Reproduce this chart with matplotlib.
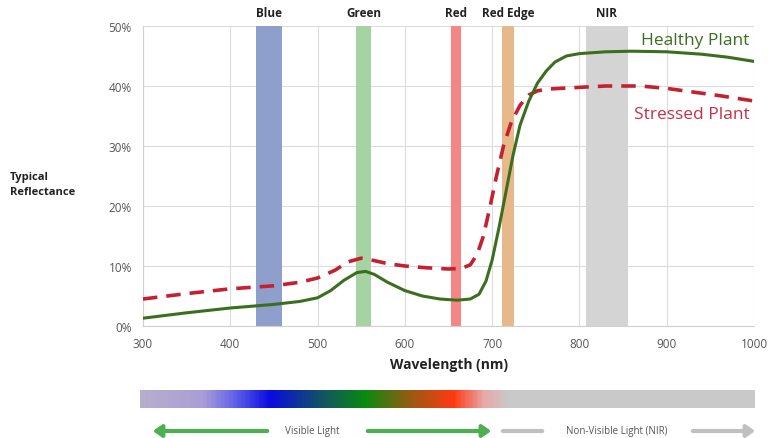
import numpy as np
import matplotlib
matplotlib.use('Agg')
import matplotlib.pyplot as plt
from matplotlib.colors import LinearSegmentedColormap

plt.rcParams['font.family'] = ['Open Sans', 'DejaVu Sans']

# reflectance curves (nm, %)
healthy_nm = [300, 350, 400, 450, 480, 500, 515, 530, 545, 555, 565, 580, 600, 620, 640, 660, 675, 685, 693,
              700, 708, 716, 724, 732, 742, 752, 762, 772, 785, 800, 830, 860, 900, 940, 970, 1000]
healthy_pct = [1.3, 2.2, 3.0, 3.6, 4.1, 4.7, 5.9, 7.6, 8.9, 9.1, 8.6, 7.3, 5.9, 5.0, 4.5, 4.3, 4.5, 5.3, 7.5,
               11.0, 16.5, 22.5, 28.5, 33.5, 37.5, 40.5, 42.5, 44.0, 45.0, 45.4, 45.7, 45.8, 45.7, 45.3, 44.8, 44.1]

stressed_nm = [300, 350, 400, 450, 480, 500, 520, 535, 550, 565, 580, 600, 625, 650, 665, 675, 683, 690,
               697, 705, 713, 722, 732, 742, 752, 765, 790, 830, 870, 900, 930, 960, 1000]
stressed_pct = [4.5, 5.4, 6.2, 6.7, 7.3, 8.0, 9.3, 10.7, 11.3, 10.9, 10.4, 10.0, 9.7, 9.5, 9.6, 10.2, 12.0, 15.0,
                19.5, 25.0, 30.0, 34.0, 36.8, 38.5, 39.2, 39.5, 39.7, 40.0, 40.0, 39.6, 39.0, 38.4, 37.5]

# spectral bands (nm)
band_names = ['Blue', 'Green', 'Red', 'Red Edge', 'NIR']
band_lo = [429, 544, 653, 711, 807]
band_hi = [459, 561, 664, 725, 856]
band_colors = ['#8f9fcb', '#a6d3a2', '#f48686', '#e7b98a', '#d4d4d4']

x_ticks = [300, 400, 500, 600, 700, 800, 900, 1000]
y_ticks = [0, 10, 20, 30, 40, 50]

W, H = 768, 439
fig = plt.figure(figsize=(W / 100, H / 100), dpi=100)

def box(l, t, r, b):
    return [l / W, 1 - b / H, (r - l) / W, (b - t) / H]

ax = fig.add_axes(box(143, 27, 754, 327))
for lo, hi, c in zip(band_lo, band_hi, band_colors):
    ax.axvspan(lo, hi, color=c, lw=0, zorder=1)
for name, lo, hi in zip(band_names, band_lo, band_hi):
    ax.text((lo + hi) / 2, 51.2, name, ha='center', va='bottom', fontsize=8.5,
            fontweight='bold', color='#222222')

ax.plot(stressed_nm, stressed_pct, color='#c4202f', lw=2.6, ls=(0, (4, 2.5)), zorder=3)
ax.plot(healthy_nm, healthy_pct, color='#3b6e1f', lw=2.2, zorder=4)

ax.text(995, 47.6, 'Healthy Plant', ha='right', va='center', fontsize=12.5, color='#3b6e1f')
ax.text(995, 35.3, 'Stressed Plant', ha='right', va='center', fontsize=12.5, color='#c4304a')

ax.set_xlim(300, 1000)
ax.set_ylim(0, 50)
ax.set_xticks(x_ticks)
ax.set_yticks(y_ticks)
ax.set_yticklabels([f'{v}%' for v in y_ticks])
ax.tick_params(length=0, labelsize=8.5, colors='#555555', pad=8)
ax.grid(True, color='#dcdcdc', lw=0.8, zorder=0)
ax.set_axisbelow(True)
for s in ['top', 'right']:
    ax.spines[s].set_visible(False)
for s in ['left', 'bottom']:
    ax.spines[s].set_color('#d0d0d0')
ax.set_xlabel('Wavelength (nm)', fontsize=10, fontweight='bold', color='#222222', labelpad=5)

fig.text(10 / W, 1 - 185 / H, 'Typical\nReflectance', ha='left', va='center', fontsize=8,
         fontweight='bold', color='#222222', linespacing=1.5)

# spectrum strip under the chart
strip_stops = [0.0, 0.1, 0.15, 0.21, 0.29, 0.365, 0.44, 0.51, 0.56, 0.6, 1.0]
strip_cols = ['#b7aecd', '#a99ed6', '#6464ea', '#0a0ae0', '#12506a', '#0a8a10', '#9a5a12', '#ff3a12',
              '#e8a8a8', '#c9c9c9', '#c9c9c9']
cmap = LinearSegmentedColormap.from_list('strip', list(zip(strip_stops, strip_cols)))
sax = fig.add_axes(box(140, 391, 755, 409))
sax.imshow(np.linspace(0, 1, 400)[None, :], cmap=cmap, aspect='auto')
sax.axis('off')

def fx(px):
    return px / W

ya = 1 - 432 / H
green = '#4caf50'
grey = '#c0c0c0'
head = '-|>,head_length=5,head_width=3.5'
fig.add_artist(matplotlib.patches.FancyArrowPatch((fx(270), ya), (fx(150), ya), transform=fig.transFigure,
               arrowstyle=head, color=green, lw=3, mutation_scale=1))
fig.add_artist(matplotlib.patches.FancyArrowPatch((fx(365), ya), (fx(494), ya), transform=fig.transFigure,
               arrowstyle=head, color=green, lw=3, mutation_scale=1))
fig.add_artist(matplotlib.patches.FancyArrowPatch((fx(500), ya), (fx(545), ya), transform=fig.transFigure,
               arrowstyle='-', color=grey, lw=3))
fig.add_artist(matplotlib.patches.FancyArrowPatch((fx(690), ya), (fx(758), ya), transform=fig.transFigure,
               arrowstyle=head, color=grey, lw=3, mutation_scale=1))
fig.text(fx(312), ya, 'Visible Light', ha='center', va='center', fontsize=7, color='#555555')
fig.text(fx(617), ya, 'Non-Visible Light (NIR)', ha='center', va='center', fontsize=7, color='#555555')

fig.savefig('out.png', dpi=100, facecolor='white')
